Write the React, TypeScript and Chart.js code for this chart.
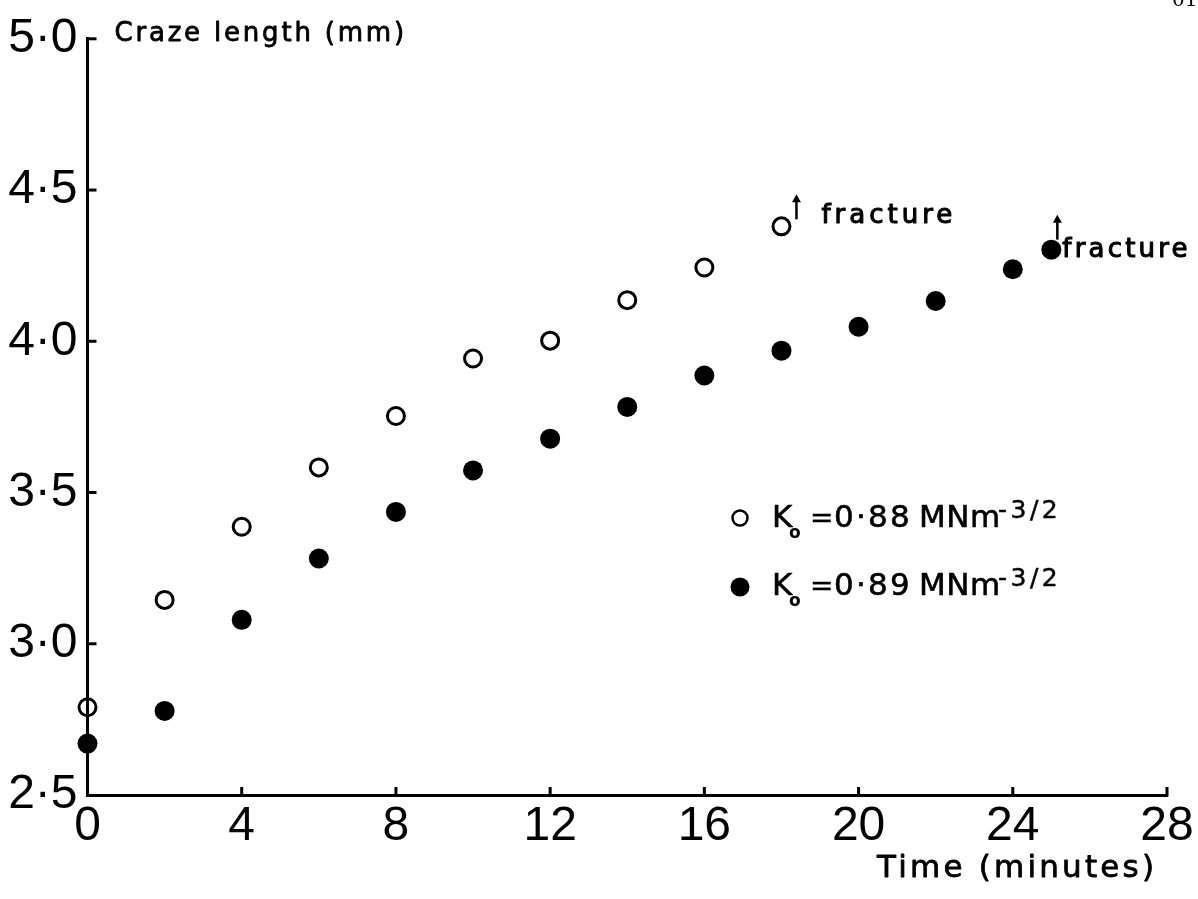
import React, { useEffect, useRef } from 'react';
import { Chart, registerables } from 'chart.js';

Chart.register(...registerables);

// ---- data ----
const timeOpen = [0, 2, 4, 6, 8, 10, 12, 14, 16, 18];
const crazeOpen = [2.79, 3.145, 3.387, 3.583, 3.753, 3.943, 4.002, 4.136, 4.244, 4.38];
const timeFilled = [0, 2, 4, 6, 8, 10, 12, 14, 16, 18, 20, 22, 24, 25];
const crazeFilled = [2.67, 2.778, 3.079, 3.282, 3.436, 3.573, 3.678, 3.783, 3.887, 3.969, 4.048, 4.133, 4.238, 4.303];
const xTicks = [0, 4, 8, 12, 16, 20, 24, 28];
const yTicks = [2.5, 3.0, 3.5, 4.0, 4.5, 5.0];
const yTitle = 'Craze length (mm)';
const xTitle = 'Time (minutes)';
const fractureLabel = 'fracture';
const legendValues = ['0·88', '0·89'];
const legendUnit = 'MNm';
const legendExp = '-3/2';

const TEXT_FONT = "'DejaVu Sans', 'Liberation Sans', sans-serif";
const TICK_FONT = "'Liberation Sans', Arial, sans-serif";

function drawText(
  ctx: CanvasRenderingContext2D,
  s: string,
  x: number,
  y: number,
  size: number,
  spacing = 0,
  stroke = 0.7,
  family = TEXT_FONT,
  weight = 'normal'
) {
  ctx.save();
  ctx.font = `${weight} ${size}px ${family}`;
  (ctx as any).letterSpacing = `${spacing}px`;
  ctx.fillStyle = '#000';
  ctx.strokeStyle = '#000';
  ctx.textAlign = 'left';
  ctx.textBaseline = 'alphabetic';
  ctx.fillText(s, x, y);
  if (stroke > 0) {
    ctx.lineWidth = stroke;
    ctx.lineJoin = 'round';
    ctx.strokeText(s, x, y);
  }
  ctx.restore();
}

function drawArrow(ctx: CanvasRenderingContext2D, x: number, yBottom: number, yTop: number) {
  ctx.save();
  ctx.strokeStyle = '#000';
  ctx.fillStyle = '#000';
  ctx.lineWidth = 2.5;
  ctx.beginPath();
  ctx.moveTo(x, yBottom);
  ctx.lineTo(x, yTop + 5);
  ctx.stroke();
  ctx.beginPath();
  ctx.moveTo(x, yTop);
  ctx.lineTo(x - 4.5, yTop + 8);
  ctx.lineTo(x + 4.5, yTop + 8);
  ctx.closePath();
  ctx.fill();
  ctx.restore();
}

const decorPlugin = {
  id: 'decor',
  afterDraw(chart: any) {
    const { ctx, chartArea, scales } = chart;
    const xs = scales.x;
    const ys = scales.y;
    ctx.save();
    ctx.strokeStyle = '#000';
    ctx.lineWidth = 3;
    ctx.lineCap = 'butt';
    // inward ticks on y axis
    yTicks.forEach((v) => {
      if (v === yTicks[0]) return;
      const py = ys.getPixelForValue(v);
      ctx.beginPath();
      ctx.moveTo(chartArea.left - 1.5, py);
      ctx.lineTo(chartArea.left + 9, py);
      ctx.stroke();
    });
    // inward ticks on x axis
    xTicks.forEach((v) => {
      if (v === xTicks[0]) return;
      const px = xs.getPixelForValue(v);
      ctx.beginPath();
      ctx.moveTo(px, chartArea.bottom + 1.5);
      ctx.lineTo(px, chartArea.bottom - 8);
      ctx.stroke();
    });
    ctx.restore();

    // axis titles
    drawText(ctx, yTitle, chartArea.left + 27, chartArea.top + 2, 26, 2.8, 0.8);
    drawText(ctx, xTitle, 877, chartArea.bottom + 82, 31, 3.2, 0.8);

    // fracture annotations (relative to the last point of each series)
    const lo = timeOpen.length - 1;
    const p1x = xs.getPixelForValue(timeOpen[lo]);
    const p1y = ys.getPixelForValue(crazeOpen[lo]);
    drawArrow(ctx, p1x + 15, p1y - 7, p1y - 32);
    drawText(ctx, fractureLabel, p1x + 40, p1y - 3, 26, 4, 1.1);

    const lf = timeFilled.length - 1;
    const p2x = xs.getPixelForValue(timeFilled[lf]);
    const p2y = ys.getPixelForValue(crazeFilled[lf]);
    drawArrow(ctx, p2x + 6, p2y - 10, p2y - 35);
    drawText(ctx, fractureLabel, p2x + 11, p2y + 7, 26, 3.2, 1.1);

    // legend
    const rows = [518, 587];
    rows.forEach((cy, i) => {
      ctx.save();
      ctx.beginPath();
      if (i === 0) {
        ctx.arc(740, cy, 7.5, 0, Math.PI * 2);
        ctx.lineWidth = 2.5;
        ctx.strokeStyle = '#000';
        ctx.stroke();
      } else {
        ctx.arc(740, cy, 9.5, 0, Math.PI * 2);
        ctx.fillStyle = '#000';
        ctx.fill();
      }
      ctx.restore();
      const base = i === 0 ? 527 : 595;
      drawText(ctx, 'K', 772, base, 31, 0, 0.6);
      drawText(ctx, 'o', 789, base + 11, 17, 0, 0, TEXT_FONT, 'bold');
      drawText(ctx, '=', 810, base, 28, 0, 0.4);
      drawText(ctx, legendValues[i], 834, base, 31, 2.2, 0.6);
      drawText(ctx, legendUnit, 919, base, 31, 0.5, 0.6);
      drawText(ctx, legendExp, 998, base - 9, 25, 3.5, 0.5);
    });

    // page number fragment at top right
    drawText(ctx, '01', 1172, 6, 20, 0, 0, "'DejaVu Serif', serif");
  },
};

export default function App() {
  const canvasRef = useRef<HTMLCanvasElement | null>(null);

  useEffect(() => {
    document.body.style.margin = '0';
    const canvas = canvasRef.current;
    if (!canvas) return;
    const tickFont = { family: TICK_FONT, size: 48, weight: 'normal' as const };
    const chart = new Chart(canvas, {
      type: 'scatter',
      data: {
        datasets: [
          {
            label: 'K0 = 0.88',
            data: timeOpen.map((x, i) => ({ x, y: crazeOpen[i] })),
            pointRadius: 8.5,
            pointBorderWidth: 3,
            pointBackgroundColor: 'rgba(0,0,0,0)',
            pointBorderColor: '#000',
            showLine: false,
            clip: false as any,
          },
          {
            label: 'K0 = 0.89',
            data: timeFilled.map((x, i) => ({ x, y: crazeFilled[i] })),
            pointRadius: 10,
            pointBorderWidth: 0,
            pointBackgroundColor: '#000',
            pointBorderColor: '#000',
            showLine: false,
            clip: false as any,
          },
        ],
      },
      options: {
        responsive: false,
        animation: false,
        devicePixelRatio: 1,
        events: [],
        layout: { padding: { left: 0, top: 31, right: 31, bottom: 0 } },
        plugins: { legend: { display: false }, tooltip: { enabled: false } },
        scales: {
          x: {
            type: 'linear',
            min: 0,
            max: 28,
            afterBuildTicks: (s: any) => {
              s.ticks = xTicks.map((v) => ({ value: v }));
            },
            afterFit: (s: any) => {
              s.height = 104;
            },
            grid: { display: false, drawTicks: false },
            border: { display: true, color: '#000', width: 3 },
            ticks: {
              padding: 3,
              color: '#000',
              font: tickFont,
              maxRotation: 0,
              autoSkip: false,
              callback: (v: any) => String(v),
            },
          },
          y: {
            type: 'linear',
            min: 2.5,
            max: 5.0,
            afterBuildTicks: (s: any) => {
              s.ticks = yTicks.map((v) => ({ value: v }));
            },
            afterFit: (s: any) => {
              s.width = 87.5;
            },
            grid: { display: false, drawTicks: false },
            border: { display: true, color: '#000', width: 3 },
            ticks: {
              padding: 10,
              color: '#000',
              font: tickFont,
              autoSkip: false,
              callback: (v: any) => Number(v).toFixed(1).replace('.', '·'),
            },
          },
        },
      },
      plugins: [decorPlugin],
    });
    return () => chart.destroy();
  }, []);

  return <canvas ref={canvasRef} width={1198} height={899} style={{ display: 'block' }} />;
}
